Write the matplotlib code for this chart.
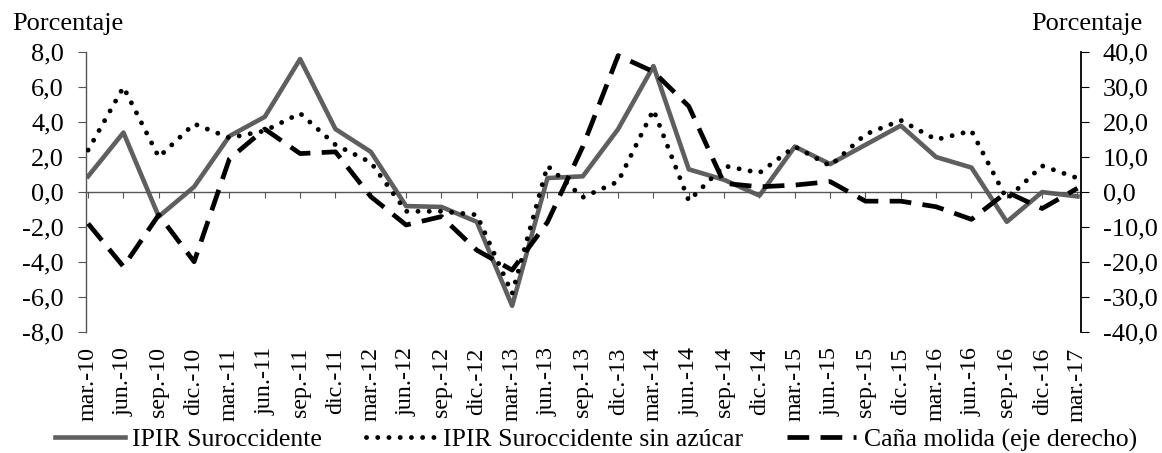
import numpy as np
import matplotlib
matplotlib.use("Agg")
import matplotlib.pyplot as plt
from matplotlib.ticker import FuncFormatter

plt.rcParams['font.family'] = ['Liberation Serif', 'DejaVu Serif']

# trimestres
quarters = ["mar.-10", "jun.-10", "sep.-10", "dic.-10",
            "mar.-11", "jun.-11", "sep.-11", "dic.-11",
            "mar.-12", "jun.-12", "sep.-12", "dic.-12",
            "mar.-13", "jun.-13", "sep.-13", "dic.-13",
            "mar.-14", "jun.-14", "sep.-14", "dic.-14",
            "mar.-15", "jun.-15", "sep.-15", "dic.-15",
            "mar.-16", "jun.-16", "sep.-16", "dic.-16",
            "mar.-17"]

# variacion anual (%), eje izquierdo
ipir = [0.9, 3.4, -1.4, 0.3, 3.2, 4.3, 7.6, 3.6, 2.3, -0.8, -0.85, -1.7,
        -6.5, 0.8, 0.9, 3.6, 7.2, 1.3, 0.7, -0.2, 2.6, 1.6, 2.7, 3.8,
        2.0, 1.4, -1.7, 0.0, -0.25]
ipir_sin_azucar = [2.4, 6.0, 2.0, 3.9, 3.1, 3.5, 4.5, 2.7, 1.7, -1.1, -1.1, -1.3,
                   -5.8, 1.5, -0.3, 0.6, 4.7, -0.5, 1.5, 1.1, 2.6, 1.5, 3.3, 4.1,
                   3.0, 3.5, -0.4, 1.5, 0.8]
# variacion anual (%), eje derecho
cana_molida = [-9.0, -21.3, -6.5, -19.9, 9.5, 18.0, 11.0, 11.5, -1.3, -9.4, -7.0, -16.6,
               -22.3, -8.6, 13.0, 39.0, 34.4, 24.5, 2.5, 1.5, 2.0, 3.0, -2.6, -2.6,
               -4.2, -7.8, 0.0, -4.7, 1.1]

x = np.arange(len(quarters))
fmt = FuncFormatter(lambda v, p: f"{v:.1f}".replace(".", ","))

fig = plt.figure(figsize=(11.62, 4.53), dpi=100)
ax = fig.add_axes([0.074, 0.267, 0.856, 0.618])
ax2 = ax.twinx()

l1, = ax.plot(x, ipir, color="#5f5f5f", lw=3.3, label="IPIR Suroccidente", zorder=2)
l2, = ax.plot(x, ipir_sin_azucar, color="black", lw=3.5, linestyle=(0, (0.01, 2.3)),
              dash_capstyle="round", label="IPIR Suroccidente sin azúcar", zorder=3)
l3, = ax2.plot(x, cana_molida, color="black", lw=3.4, linestyle=(0, (4.6, 2.4)),
               label="Caña molida (eje derecho)")

ax.set_xlim(-0.06, 28.09)
ax.set_ylim(-8, 8)
ax.set_yticks(np.arange(-8, 8.1, 2))
ax.yaxis.set_major_formatter(fmt)
ax2.set_ylim(-40, 40)
ax2.set_yticks(np.arange(-40, 40.1, 10))
ax2.yaxis.set_major_formatter(fmt)

# eje x cruzando en cero
ax.spines["bottom"].set_position(("data", 0))
ax.spines["bottom"].set_color("#555555")
ax.spines["bottom"].set_linewidth(1.0)
ax.spines["left"].set_color("#555555")
ax.spines["left"].set_linewidth(1.0)
for s in ["top", "right"]:
    ax.spines[s].set_visible(False)
for s in ["top", "left", "bottom"]:
    ax2.spines[s].set_visible(False)
ax2.spines["right"].set_linewidth(1.3)

ax.set_xticks(x)
ax.tick_params(axis="x", direction="out", length=4.5, color="#555555", labelbottom=False)
ax.tick_params(axis="y", direction="out", length=6, color="#555555", pad=10, labelsize=19)
ax2.tick_params(axis="y", direction="out", length=6, pad=10, labelsize=19)

# etiquetas de trimestre abajo
sec = ax.secondary_xaxis("bottom")
sec.set_xticks(x, labels=quarters)
sec.tick_params(length=0, pad=11, labelsize=17.3, labelrotation=90)
sec.spines["bottom"].set_visible(False)

fig.text(0.0105, 0.934, "Porcentaje", fontsize=19, ha="left", va="baseline")
fig.text(0.983, 0.934, "Porcentaje", fontsize=19, ha="right", va="baseline")

fig.legend(handles=[l1, l2, l3], loc="center", bbox_to_anchor=(0.513, 0.029), ncol=3,
           frameon=False, fontsize=18.5, handlelength=2.7, handletextpad=0.3,
           columnspacing=1.7, borderaxespad=0)

fig.savefig("out.png", dpi=100)
